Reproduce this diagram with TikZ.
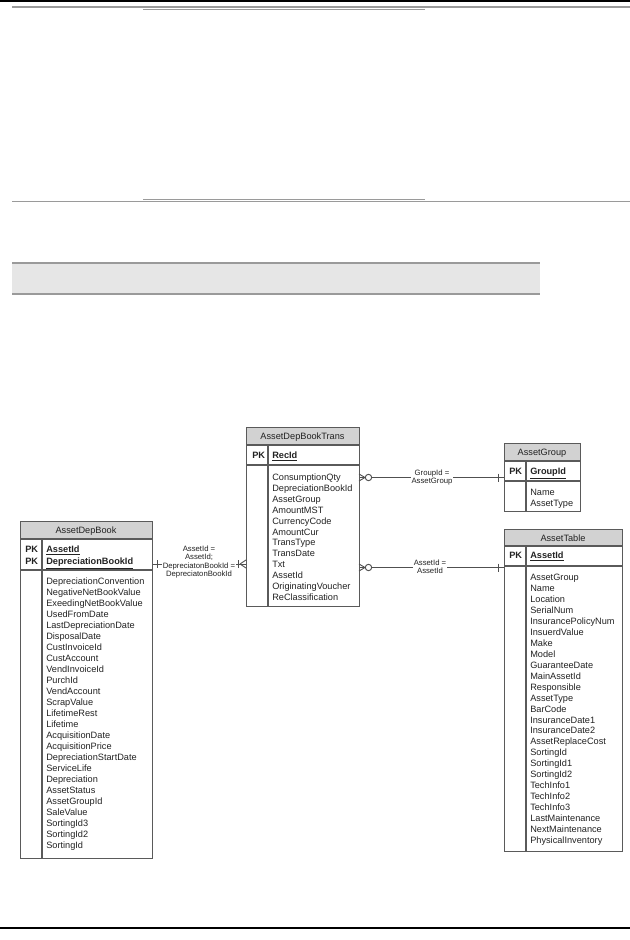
\documentclass[tikz,border=0pt]{standalone}
\usepackage{fontspec}
\setmainfont{Liberation Sans}
\definecolor{framec}{HTML}{5A5A5A}
\definecolor{hdrc}{HTML}{D2D2D2}
\definecolor{txtc}{HTML}{222222}
\definecolor{linec}{HTML}{9A9A9A}
\definecolor{boxc}{HTML}{E6E6E6}
\definecolor{connc}{HTML}{505050}
\begin{document}
\begin{tikzpicture}[x=0.75pt,y=-0.75pt,
 tblframe/.style={draw=framec,line width=0.8pt,inner sep=0,anchor=north west},
 fld/.style={anchor=mid west,inner sep=0,text=txtc,font=\fontsize{6.9pt}{8pt}\selectfont},
 ttl/.style={anchor=mid,inner sep=0,text=txtc,font=\fontsize{6.9pt}{8pt}\selectfont},
 pkf/.style={anchor=mid west,inner sep=0,text=txtc,font=\fontsize{6.9pt}{8pt}\selectfont\bfseries},
 rel/.style={draw=connc,line width=0.7pt},
 rlab/.style={fill=white,inner sep=0.6pt,align=center,text=txtc,font=\fontsize{5.8pt}{6.3pt}\selectfont},
 sepl/.style={draw=framec,line width=0.8pt},
 deco/.style={draw=linec,line width=1pt}]
\useasboundingbox (0,0) rectangle (630,940);

% page decorations
\draw[black,line width=1.5pt] (0,0.75) -- (630,0.75);
\draw[deco] (12,7) -- (630,7);
\draw[deco] (143,9.5) -- (425,9.5);
\draw[deco] (143,199.5) -- (425,199.5);
\draw[deco] (12,201.5) -- (630,201.5);
\fill[boxc] (12,263) rectangle (540,294);
\draw[deco] (12,263) -- (540,263);
\draw[deco] (12,294) -- (540,294);
\draw[black,line width=1.2pt] (0,928) -- (630,928);

% ---------- AssetDepBook ----------
\fill[hdrc] (20,521) rectangle (152,539);
\draw[sepl] (20,539) -- (152,539);
\draw[sepl] (20,570) -- (152,570);
\draw[sepl] (42,539) -- (42,858);
\node[tblframe,minimum width=99pt,minimum height=252.75pt] (adb) at (20,521) {};
\node[ttl] (adbT) at (86,530) {AssetDepBook};
\node[pkf] (adbP1) at (25,549) {PK};
\node[pkf] (adbK1) at (46,549) {\underline{AssetId}};
\node[pkf] (adbP2) at (25,561) {PK};
\node[pkf] (adbK2) at (46,561) {\underline{DepreciationBookId}};
\foreach \t [count=\i from 0] in {DepreciationConvention,NegativeNetBookValue,ExeedingNetBookValue,UsedFromDate,LastDepreciationDate,DisposalDate,CustInvoiceId,CustAccount,VendInvoiceId,PurchId,VendAccount,ScrapValue,LifetimeRest,Lifetime,AcquisitionDate,AcquisitionPrice,DepreciationStartDate,ServiceLife,Depreciation,AssetStatus,AssetGroupId,SaleValue,SortingId3,SortingId2,SortingId}
  \node[fld] (adbF\i) at (46,{581+11*\i}) {\t};

% ---------- AssetDepBookTrans ----------
\fill[hdrc] (246,427) rectangle (359,445);
\draw[sepl] (246,445) -- (359,445);
\draw[sepl] (246,465) -- (359,465);
\draw[sepl] (268,445) -- (268,606);
\node[tblframe,minimum width=84.75pt,minimum height=134.25pt] (trans) at (246,427) {};
\node[ttl] (transT) at (302.5,436) {AssetDepBookTrans};
\node[pkf] (transP) at (252,455) {PK};
\node[pkf] (transK) at (272,455) {\underline{RecId}};
\foreach \t [count=\i from 0] in {ConsumptionQty,DepreciationBookId,AssetGroup,AmountMST,CurrencyCode,AmountCur,TransType,TransDate,Txt,AssetId,OriginatingVoucher,ReClassification}
  \node[fld] (transF\i) at (272,{477+10.9*\i}) {\t};

% ---------- AssetGroup ----------
\fill[hdrc] (504,443) rectangle (580,461);
\draw[sepl] (504,461) -- (580,461);
\draw[sepl] (504,481) -- (580,481);
\draw[sepl] (526,461) -- (526,511);
\node[tblframe,minimum width=57pt,minimum height=51pt] (grp) at (504,443) {};
\node[ttl] (grpT) at (542,452) {AssetGroup};
\node[pkf] (grpP) at (509,471) {PK};
\node[pkf] (grpK) at (530,471) {\underline{GroupId}};
\node[fld] (grpF0) at (530,492) {Name};
\node[fld] (grpF1) at (530,503) {AssetType};

% ---------- AssetTable ----------
\fill[hdrc] (504,529) rectangle (622,546);
\draw[sepl] (504,546) -- (622,546);
\draw[sepl] (504,566) -- (622,566);
\draw[sepl] (526,546) -- (526,851);
\node[tblframe,minimum width=88.5pt,minimum height=241.5pt] (ast) at (504,529) {};
\node[ttl] (astT) at (563,537.5) {AssetTable};
\node[pkf] (astP) at (509,555) {PK};
\node[pkf] (astK) at (530,555) {\underline{AssetId}};
\foreach \t [count=\i from 0] in {AssetGroup,Name,Location,SerialNum,InsurancePolicyNum,InsuerdValue,Make,Model,GuaranteeDate,MainAssetId,Responsible,AssetType,BarCode,InsuranceDate1,InsuranceDate2,AssetReplaceCost,SortingId,SortingId1,SortingId2,TechInfo1,TechInfo2,TechInfo3,LastMaintenance,NextMaintenance,PhysicalInventory}
  \node[fld] (astF\i) at (530,{577+10.96*\i}) {\t};

% ---------- relation 1: AssetDepBook -- AssetDepBookTrans ----------
\draw[rel] (adb.east |- 0,564) -- (trans.west |- 0,564);
\node[rlab] (l1) at (199,562) {AssetId =\\AssetId;\\DepreciatonBookId =\\DepreciatonBookId};
\draw[rel] (157,560) -- (157,568);
\draw[rel] (238,560) -- (238,568);
\draw[rel] (240,564) -- (246,560) (240,564) -- (246,568);

% ---------- relation 2: AssetDepBookTrans -- AssetGroup ----------
\draw[rel] (trans.east |- 0,477.5) -- (grp.west |- 0,477.5);
\node[rlab] (l2) at (432,477.5) {GroupId =\\AssetGroup};
\draw[rel] (365,477.5) -- (359,474) (365,477.5) -- (359,481);
\draw[rel,fill=white] (368.5,477.5) circle[radius=2.4pt];
\draw[rel] (498,473.5) -- (498,481.5);

% ---------- relation 3: AssetDepBookTrans -- AssetTable ----------
\draw[rel] (trans.east |- 0,567.5) -- (ast.west |- 0,567.5);
\node[rlab] (l3) at (430,567) {AssetId =\\AssetId};
\draw[rel] (365,567.5) -- (359,564) (365,567.5) -- (359,571);
\draw[rel,fill=white] (368.5,567.5) circle[radius=2.4pt];
\draw[rel] (498,563.5) -- (498,571.5);
\end{tikzpicture}
\end{document}
